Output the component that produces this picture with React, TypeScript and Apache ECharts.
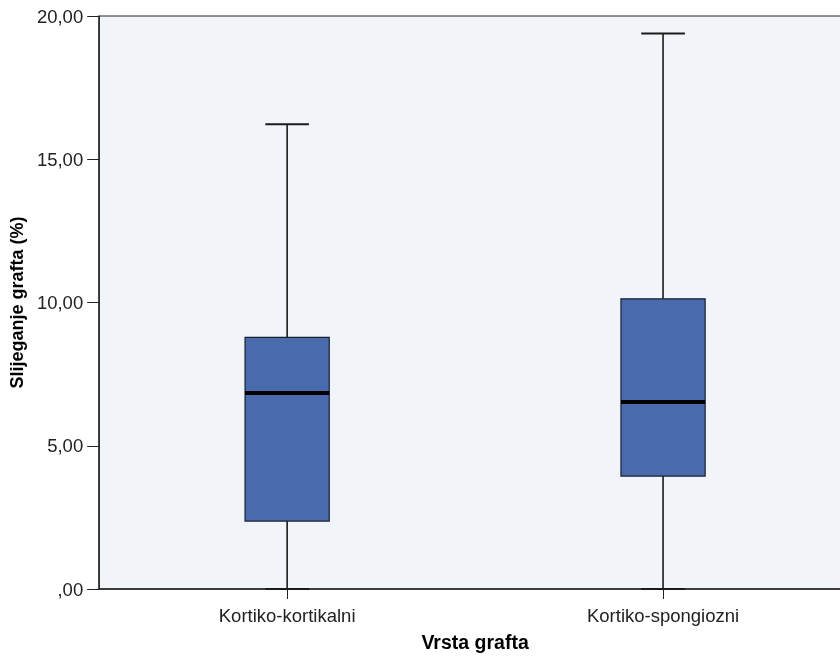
import React, { useEffect, useRef } from "react";
import * as echarts from "echarts";

const categories = ["Kortiko-kortikalni", "Kortiko-spongiozni"];
const minValues = [0, 0];
const q1Values = [2.37, 3.94];
const medianValues = [6.84, 6.53];
const q3Values = [8.78, 10.13];
const maxValues = [16.22, 19.39];
const yTicks = [0, 5, 10, 15, 20];

const FONT = "'Liberation Sans', Arial, sans-serif";

export default function App() {
  const ref = useRef<HTMLDivElement>(null);
  useEffect(() => {
    if (!ref.current) return;
    const chart = echarts.init(ref.current, null, { renderer: "svg" });
    const data = categories.map((_, i) => [i, minValues[i], q1Values[i], medianValues[i], q3Values[i], maxValues[i]]);
    chart.setOption({
      animation: false,
      grid: {
        left: 99,
        top: 16,
        height: 578,
        width: 752,
        show: true,
        backgroundColor: "#f1f5fa",
        borderColor: "#222",
        borderWidth: 1,
      },
      xAxis: {
        type: "category",
        data: categories,
        name: "Vrsta grafta",
        nameLocation: "middle",
        nameGap: 43,
        nameTextStyle: { fontFamily: FONT, fontWeight: "bold", fontSize: 19.5, color: "#000" },
        axisLine: { lineStyle: { color: "#222", width: 1.5 } },
        axisTick: { show: true, alignWithLabel: true, length: 10, lineStyle: { color: "#222" } },
        axisLabel: { fontFamily: FONT, fontSize: 18.5, color: "#222", margin: 17 },
        splitLine: { show: false },
      },
      yAxis: {
        type: "value",
        min: 0,
        max: 20,
        interval: 5,
        name: "Slijeganje grafta (%)",
        nameLocation: "middle",
        nameGap: 65,
        nameTextStyle: { fontFamily: FONT, fontWeight: "bold", fontSize: 18, color: "#000" },
        axisLine: { show: true, lineStyle: { color: "#222", width: 1.5 } },
        axisTick: { show: true, length: 12, lineStyle: { color: "#222" } },
        axisLabel: {
          fontFamily: FONT,
          fontSize: 18.5,
          color: "#222",
          margin: 16,
          formatter: (v: number) => (yTicks.includes(v) ? (v === 0 ? ",00" : v.toFixed(2).replace(".", ",")) : ""),
        },
        splitLine: { show: false },
      },
      series: [
        {
          type: "custom",
          data,
          renderItem: (params: any, api: any) => {
            const idx = api.value(0);
            const x = api.coord([idx, 0])[0];
            const bandW = api.size([1, 0])[0];
            const boxW = bandW * 0.224;
            const capW = bandW * 0.116;
            const yMin = api.coord([idx, api.value(1)])[1];
            const yQ1 = api.coord([idx, api.value(2)])[1];
            const yMed = api.coord([idx, api.value(3)])[1];
            const yQ3 = api.coord([idx, api.value(4)])[1];
            const yMax = api.coord([idx, api.value(5)])[1];
            const lineStyle = { stroke: "#1a1a1a", lineWidth: 1.6 };
            return {
              type: "group",
              children: [
                { type: "line", shape: { x1: x, y1: yMax, x2: x, y2: yQ3 }, style: lineStyle },
                { type: "line", shape: { x1: x, y1: yQ1, x2: x, y2: yMin }, style: lineStyle },
                { type: "line", shape: { x1: x - capW / 2, y1: yMax, x2: x + capW / 2, y2: yMax }, style: { stroke: "#1a1a1a", lineWidth: 2 } },
                { type: "line", shape: { x1: x - capW / 2, y1: yMin, x2: x + capW / 2, y2: yMin }, style: { stroke: "#1a1a1a", lineWidth: 2 } },
                {
                  type: "rect",
                  shape: { x: x - boxW / 2, y: yQ3, width: boxW, height: yQ1 - yQ3 },
                  style: { fill: "#4a6aae", stroke: "#1a1f2e", lineWidth: 1.2 },
                },
                { type: "line", shape: { x1: x - boxW / 2, y1: yMed, x2: x + boxW / 2, y2: yMed }, style: { stroke: "#000", lineWidth: 4 } },
              ],
            };
          },
        },
      ],
    });
    return () => chart.dispose();
  }, []);
  return (
    <div style={{ position: "fixed", left: 0, top: 0, width: 840, height: 657, overflow: "hidden" }}>
      <div ref={ref} style={{ width: 880, height: 657 }} />
    </div>
  );
}
